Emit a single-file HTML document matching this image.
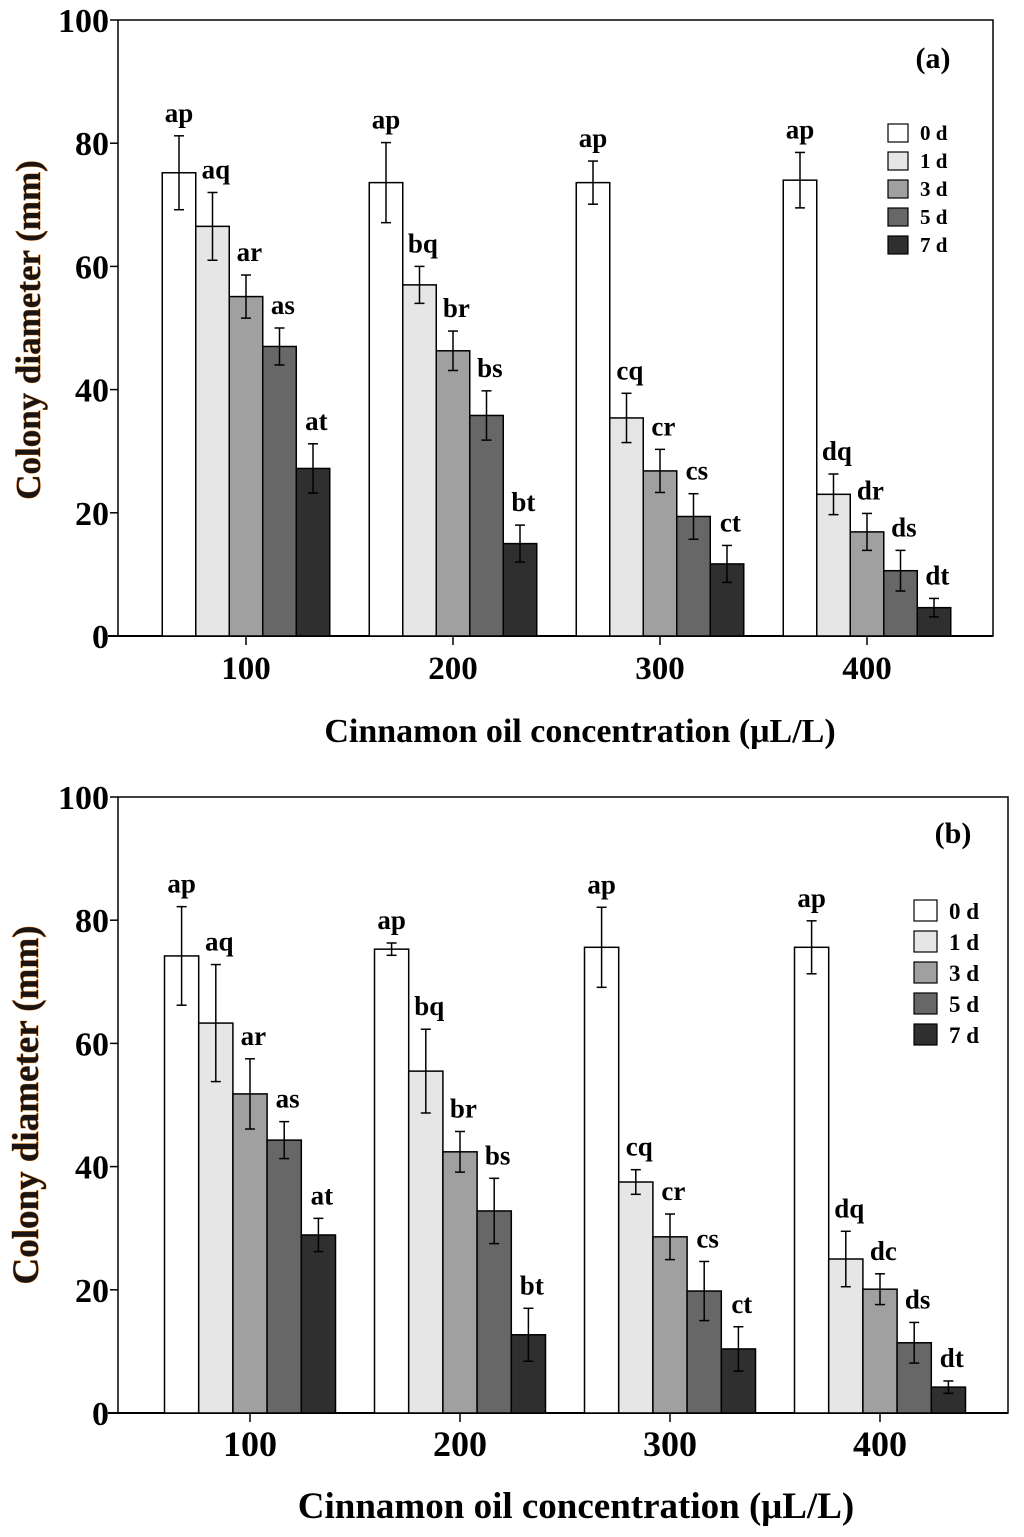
<!DOCTYPE html>
<html><head><meta charset="utf-8"><style>
html,body{margin:0;padding:0;background:#fff;}
svg{display:block;font-family:"Liberation Serif",serif;font-weight:bold;}
</style></head><body>
<svg id="chart" width="1024" height="1537" viewBox="0 0 1024 1537"></svg>
<script>
const categories = ["100","200","300","400"];
const seriesNames = ["0 d","1 d","3 d","5 d","7 d"];
const yTicks = [0,20,40,60,80,100];
const aValues = [[75.2,66.5,55.1,47,27.2],[73.6,57,46.3,35.8,15],[73.6,35.4,26.8,19.4,11.7],[74,23,16.9,10.6,4.6]];
const aErrors = [[6,5.5,3.5,3,4],[6.5,3,3.2,4,3],[3.5,4,3.5,3.7,3],[4.5,3.3,3,3.3,1.5]];
const aLetters = [["ap","aq","ar","as","at"],["ap","bq","br","bs","bt"],["ap","cq","cr","cs","ct"],["ap","dq","dr","ds","dt"]];
const bValues = [[74.2,63.3,51.8,44.3,28.9],[75.3,55.5,42.4,32.8,12.7],[75.6,37.5,28.6,19.8,10.4],[75.6,25,20.1,11.4,4.2]];
const bErrors = [[8,9.5,5.7,3,2.7],[1,6.8,3.3,5.3,4.3],[6.5,2,3.7,4.8,3.6],[4.3,4.5,2.5,3.3,1]];
const bLetters = [["ap","aq","ar","as","at"],["ap","bq","br","bs","bt"],["ap","cq","cr","cs","ct"],["ap","dq","dc","ds","dt"]];
const fills = ["#ffffff","#e6e6e6","#a0a0a0","#676767","#2f2f2f"];
const NS="http://www.w3.org/2000/svg";
const svg=document.getElementById('chart');
function mk(tag,attrs,parent,text){const e=document.createElementNS(NS,tag);for(const k in attrs)e.setAttribute(k,attrs[k]);if(text!==undefined)e.textContent=text;(parent||svg).appendChild(e);return e;}
function panel(p,values,errors,letters){
  const g=mk('g',{});
  
  
  const y=v=>p.y0-(v/100)*(p.y0-p.y100);
  const x=i=>p.c0+i*p.step;
  const frame=mk('rect',{x:p.left,y:p.y100,width:p.right-p.left,height:p.y0-p.y100,fill:'none',stroke:'#000','stroke-width':1.5},g);
  
  
  mk('line',{x1:p.left-10,x2:p.right,y1:p.y0,y2:p.y0,stroke:'#000','stroke-width':2},g);
  yTicks.forEach(t=>{
    mk('line',{x1:p.left-8,x2:p.left,y1:y(t),y2:y(t),stroke:'#000','stroke-width':1.5},g);
    const tl=mk('text',{x:p.left-9,y:y(t)+12,'text-anchor':'end','font-size':34},g,t);
    
    
  });
  categories.forEach((c,i)=>{
    const cx=x(i);
    mk('line',{x1:cx,x2:cx,y1:p.y0,y2:p.y0+9,stroke:'#000','stroke-width':1.5},g);
    const cl=mk('text',{x:cx,y:p.y0+43,'text-anchor':'middle','font-size':p.catF},g,c);
    
    
    values[i].forEach((v,j)=>{
      const bx=cx-2.5*p.bw+j*p.bw;
      const r=mk('rect',{x:bx,y:y(v),width:p.bw,height:p.y0-y(v),fill:fills[j],stroke:'#000','stroke-width':1.5},g);
      
      
      const ex=bx+p.bw/2,e=errors[i][j];
      mk('line',{x1:ex,x2:ex,y1:y(v+e),y2:y(v-e),stroke:'#000','stroke-width':1.5},g);
      mk('line',{x1:ex-5,x2:ex+5,y1:y(v+e),y2:y(v+e),stroke:'#000','stroke-width':1.5},g);
      mk('line',{x1:ex-5,x2:ex+5,y1:y(v-e),y2:y(v-e),stroke:'#000','stroke-width':1.5},g);
      const lx=j===0?ex:bx+p.bw*0.6;
      const lt=mk('text',{x:lx,y:y(v+e)-14,'text-anchor':'middle','font-size':27},g,letters[i][j]);
      
      
    });
  });
  seriesNames.forEach((s,j)=>{
    const ly=p.legY+j*p.legStep;
    const lr=mk('rect',{x:p.legX,y:ly,width:p.legW,height:p.legW-2,fill:fills[j],stroke:'#000','stroke-width':1.2},g);
    
    
    const lt=mk('text',{x:p.legX+p.legW+12,y:ly+p.legW-4,'font-size':p.legF},g,s);
    
    
  });
  const pt=mk('text',{x:p.tagX,y:p.tagY,'text-anchor':'middle','font-size':30},g,'('+p.tag+')');
  
  
  const xt=mk('text',{x:p.xtX,y:p.xtY,'text-anchor':'middle','font-size':p.xtF},g,'Cinnamon oil concentration (μL/L)');
  
  
  const ym=p.ytY;
  const yt=mk('text',{x:p.ytX,y:ym,'text-anchor':'middle','font-size':p.ytF,transform:'rotate(-90 '+p.ytX+' '+ym+')',fill:'#1a1414',stroke:'#e07a10','stroke-width':0.8,'paint-order':'stroke'},g,'Colony diameter (mm)');
  
  
}
panel({tag:'a',left:118,right:993,y0:636,y100:20,c0:246,step:207,bw:33.5,legX:888,legY:124,legStep:28,legW:20,legF:21,tagX:933,tagY:68,xtX:580,xtY:742,xtF:34,ytX:40,ytY:330,ytF:35,catF:33},aValues,aErrors,aLetters);
panel({tag:'b',left:118,right:1008,y0:1413,y100:797,c0:250,step:210,bw:34.2,legX:914,legY:900,legStep:31,legW:23,legF:23,tagX:953,tagY:843,xtX:576,xtY:1518,xtF:37,ytX:38,ytY:1105,ytF:37,catF:36},bValues,bErrors,bLetters);
</script>
</body></html>
